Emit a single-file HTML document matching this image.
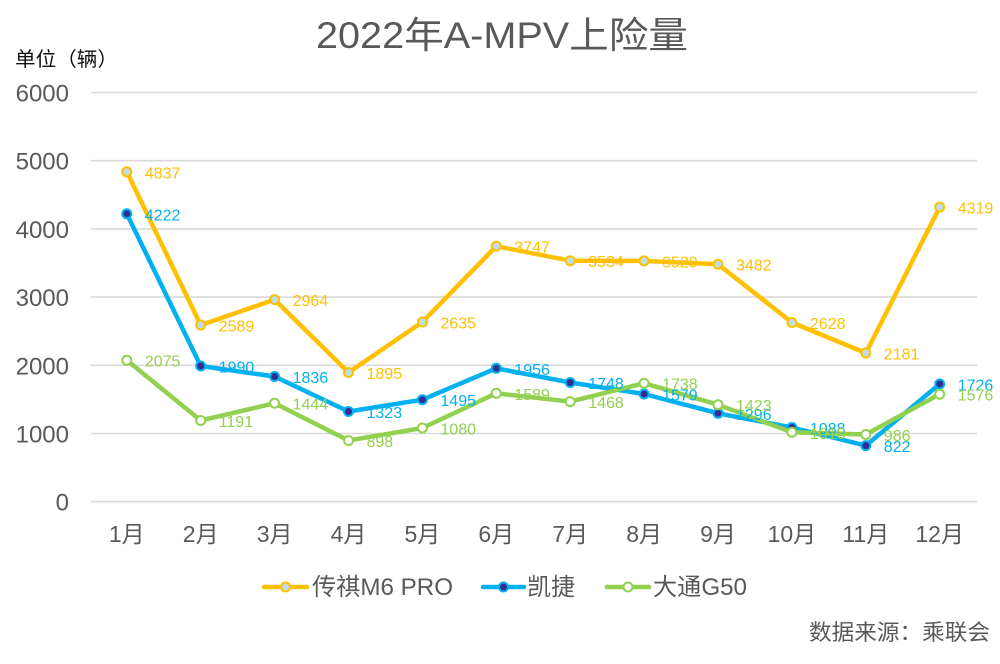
<!DOCTYPE html>
<html>
<head>
<meta charset="utf-8">
<style>
  html,body{margin:0;padding:0;background:#fff;}
  svg{display:block;}
  text{font-family:"Liberation Sans","Noto Sans CJK SC",sans-serif;}
</style>
</head>
<body>
<svg width="1000" height="664" viewBox="0 0 1000 664" xmlns="http://www.w3.org/2000/svg">
  <rect width="1000" height="664" fill="#fff"/>
  <!-- title -->
  <text x="316" y="48" font-size="37" fill="#595959" textLength="372" lengthAdjust="spacingAndGlyphs">2022年A-MPV上险量</text>
  <text x="15" y="66" font-size="20" fill="#111" textLength="103" lengthAdjust="spacingAndGlyphs">单位（辆）</text>

  <!-- gridlines -->
  <g stroke="#d9d9d9" stroke-width="1.6">
    <line x1="91" y1="92.5" x2="977" y2="92.5"/>
    <line x1="91" y1="160.7" x2="977" y2="160.7"/>
    <line x1="91" y1="228.9" x2="977" y2="228.9"/>
    <line x1="91" y1="297.1" x2="977" y2="297.1"/>
    <line x1="91" y1="365.3" x2="977" y2="365.3"/>
    <line x1="91" y1="433.5" x2="977" y2="433.5"/>
    <line x1="91" y1="501.7" x2="977" y2="501.7"/>
  </g>

  <!-- y labels -->
  <g font-size="24" fill="#595959" text-anchor="end">
    <text x="69" y="101.5">6000</text>
    <text x="69" y="169.7">5000</text>
    <text x="69" y="237.9">4000</text>
    <text x="69" y="306.1">3000</text>
    <text x="69" y="374.3">2000</text>
    <text x="69" y="442.5">1000</text>
    <text x="69" y="510.7">0</text>
  </g>

  <!-- x labels -->
  <g font-size="23" fill="#595959" text-anchor="middle">
    <text x="126.8" y="542">1月</text>
    <text x="200.7" y="542">2月</text>
    <text x="274.6" y="542">3月</text>
    <text x="348.5" y="542">4月</text>
    <text x="422.4" y="542">5月</text>
    <text x="496.3" y="542">6月</text>
    <text x="570.2" y="542">7月</text>
    <text x="644.1" y="542">8月</text>
    <text x="718.0" y="542">9月</text>
    <text x="791.9" y="542">10月</text>
    <text x="865.8" y="542">11月</text>
    <text x="939.7" y="542">12月</text>
  </g>

  <!-- orange series -->
  <polyline fill="none" stroke="#FFC000" stroke-width="4.5" stroke-linejoin="round" stroke-linecap="round"
    points="126.8,171.8 200.7,325.1 274.6,299.6 348.5,372.5 422.4,322.0 496.3,246.2 570.2,260.7 644.1,260.9 718.0,264.2 791.9,322.5 865.8,353.0 939.7,207.1"/>
  <g fill="#BFDDE4" stroke="#FFC000" stroke-width="2">
    <circle cx="126.8" cy="171.8" r="4.5"/>
    <circle cx="200.7" cy="325.1" r="4.5"/>
    <circle cx="274.6" cy="299.6" r="4.5"/>
    <circle cx="348.5" cy="372.5" r="4.5"/>
    <circle cx="422.4" cy="322.0" r="4.5"/>
    <circle cx="496.3" cy="246.2" r="4.5"/>
    <circle cx="570.2" cy="260.7" r="4.5"/>
    <circle cx="644.1" cy="260.9" r="4.5"/>
    <circle cx="718.0" cy="264.2" r="4.5"/>
    <circle cx="791.9" cy="322.5" r="4.5"/>
    <circle cx="865.8" cy="353.0" r="4.5"/>
    <circle cx="939.7" cy="207.1" r="4.5"/>
  </g>

  <!-- blue series -->
  <polyline fill="none" stroke="#00B0F0" stroke-width="4.5" stroke-linejoin="round" stroke-linecap="round"
    points="126.8,213.8 200.7,366.0 274.6,376.5 348.5,411.5 422.4,399.7 496.3,368.3 570.2,382.5 644.1,394.0 718.0,413.3 791.9,427.5 865.8,445.6 939.7,384.0"/>
  <g fill="#302E91" stroke="#00B0F0" stroke-width="2">
    <circle cx="126.8" cy="213.8" r="4.5"/>
    <circle cx="200.7" cy="366.0" r="4.5"/>
    <circle cx="274.6" cy="376.5" r="4.5"/>
    <circle cx="348.5" cy="411.5" r="4.5"/>
    <circle cx="422.4" cy="399.7" r="4.5"/>
    <circle cx="496.3" cy="368.3" r="4.5"/>
    <circle cx="570.2" cy="382.5" r="4.5"/>
    <circle cx="644.1" cy="394.0" r="4.5"/>
    <circle cx="718.0" cy="413.3" r="4.5"/>
    <circle cx="791.9" cy="427.5" r="4.5"/>
    <circle cx="865.8" cy="445.6" r="4.5"/>
    <circle cx="939.7" cy="384.0" r="4.5"/>
  </g>

  <!-- green series -->
  <polyline fill="none" stroke="#92D050" stroke-width="4.5" stroke-linejoin="round" stroke-linecap="round"
    points="126.8,360.2 200.7,420.5 274.6,403.2 348.5,440.5 422.4,428.0 496.3,393.3 570.2,401.6 644.1,383.2 718.0,404.7 791.9,432.3 865.8,434.5 939.7,394.2"/>
  <g fill="#ffffff" stroke="#92D050" stroke-width="2">
    <circle cx="126.8" cy="360.2" r="4.5"/>
    <circle cx="200.7" cy="420.5" r="4.5"/>
    <circle cx="274.6" cy="403.2" r="4.5"/>
    <circle cx="348.5" cy="440.5" r="4.5"/>
    <circle cx="422.4" cy="428.0" r="4.5"/>
    <circle cx="496.3" cy="393.3" r="4.5"/>
    <circle cx="570.2" cy="401.6" r="4.5"/>
    <circle cx="644.1" cy="383.2" r="4.5"/>
    <circle cx="718.0" cy="404.7" r="4.5"/>
    <circle cx="791.9" cy="432.3" r="4.5"/>
    <circle cx="865.8" cy="434.5" r="4.5"/>
    <circle cx="939.7" cy="394.2" r="4.5"/>
  </g>

  <!-- data labels orange -->
  <g font-size="16" fill="#FFC000">
    <text x="144.8" y="178.3">4837</text>
    <text x="218.7" y="331.6">2589</text>
    <text x="292.6" y="306.1">2964</text>
    <text x="366.5" y="379.0">1895</text>
    <text x="440.4" y="328.5">2635</text>
    <text x="514.3" y="252.7">3747</text>
    <text x="588.2" y="267.2">3534</text>
    <text x="662.1" y="267.4">3529</text>
    <text x="736.0" y="270.7">3482</text>
    <text x="809.9" y="329.0">2628</text>
    <text x="883.8" y="359.5">2181</text>
    <text x="957.7" y="213.6">4319</text>
  </g>
  <!-- data labels blue -->
  <g font-size="16" fill="#00B0F0">
    <text x="144.8" y="220.3">4222</text>
    <text x="218.7" y="372.5">1990</text>
    <text x="292.6" y="383.0">1836</text>
    <text x="366.5" y="418.0">1323</text>
    <text x="440.4" y="406.2">1495</text>
    <text x="514.3" y="374.8">1956</text>
    <text x="588.2" y="389.0">1748</text>
    <text x="662.1" y="400.5">1579</text>
    <text x="736.0" y="419.8">1296</text>
    <text x="809.9" y="434.0">1088</text>
    <text x="883.8" y="452.1">822</text>
    <text x="957.7" y="390.5">1726</text>
  </g>
  <!-- data labels green -->
  <g font-size="16" fill="#92D050">
    <text x="144.8" y="366.7">2075</text>
    <text x="218.7" y="427.0">1191</text>
    <text x="292.6" y="409.7">1444</text>
    <text x="366.5" y="447.0">898</text>
    <text x="440.4" y="434.5">1080</text>
    <text x="514.3" y="399.8">1589</text>
    <text x="588.2" y="408.1">1468</text>
    <text x="662.1" y="389.7">1738</text>
    <text x="736.0" y="411.2">1423</text>
    <text x="809.9" y="438.8">1018</text>
    <text x="883.8" y="441.0">986</text>
    <text x="957.7" y="400.7">1576</text>
  </g>

  <!-- legend -->
  <line x1="264" y1="587" x2="307" y2="587" stroke="#FFC000" stroke-width="4.5" stroke-linecap="round"/>
  <circle cx="285.5" cy="587" r="4.5" fill="#BFDDE4" stroke="#FFC000" stroke-width="2"/>
  <text x="312" y="595" font-size="24" fill="#595959" textLength="141" lengthAdjust="spacingAndGlyphs">传祺M6 PRO</text>

  <line x1="483" y1="587" x2="524" y2="587" stroke="#00B0F0" stroke-width="4.5" stroke-linecap="round"/>
  <circle cx="503.5" cy="587" r="4.5" fill="#302E91" stroke="#00B0F0" stroke-width="2"/>
  <text x="527" y="595" font-size="24" fill="#595959" textLength="48" lengthAdjust="spacingAndGlyphs">凯捷</text>

  <line x1="607" y1="587" x2="649" y2="587" stroke="#92D050" stroke-width="4.5" stroke-linecap="round"/>
  <circle cx="628" cy="587" r="4.5" fill="#ffffff" stroke="#92D050" stroke-width="2"/>
  <text x="653" y="595" font-size="24" fill="#595959" textLength="94" lengthAdjust="spacingAndGlyphs">大通G50</text>

  <!-- source -->
  <text x="809" y="640" font-size="22" fill="#595959" textLength="181" lengthAdjust="spacingAndGlyphs">数据来源：乘联会</text>
</svg>
</body>
</html>
